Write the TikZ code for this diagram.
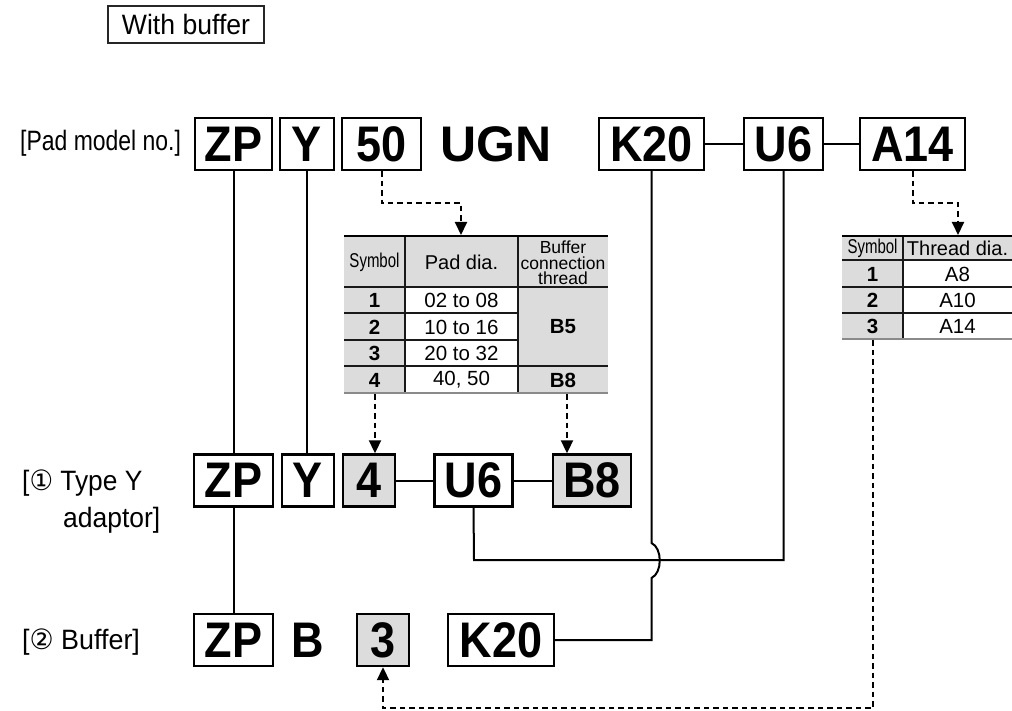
\documentclass[tikz,border=0pt]{standalone}
\usepackage{fontspec}
\setmainfont{Liberation Sans}
\newfontfamily\dv{DejaVu Sans}
\usetikzlibrary{arrows.meta}
\definecolor{gfill}{HTML}{DCDCDC}
\definecolor{gline}{HTML}{8A8A8A}
\newcommand{\cnd}[2][0.9]{\scalebox{#1}[1]{#2}}
\begin{document}
\begin{tikzpicture}[x=1pt,y=-1pt,
  bx/.style={draw=black, line width=2.4pt, inner sep=0pt, font=\fontsize{50}{50}\selectfont\bfseries, minimum height=52pt},
  gbx/.style={bx, fill=gfill},
  big/.style={font=\fontsize{50}{50}\selectfont\bfseries, inner sep=0pt},
  lbl/.style={font=\fontsize{28}{30}\selectfont, inner sep=0pt, anchor=west},
  conn/.style={line width=2pt, black},
  dsh/.style={line width=2pt, dash pattern=on 5.5pt off 4pt},
  tip/.style={-{Triangle[width=12pt,length=13pt]}},
  th/.style={font=\fontsize{20}{20}\selectfont, inner sep=0pt},
  thn/.style={font=\fontsize{17.5}{15.5}\selectfont, inner sep=0pt, align=center},
  td/.style={font=\fontsize{20.5}{20.5}\selectfont, inner sep=0pt},
  tb/.style={font=\fontsize{20.5}{20.5}\selectfont\bfseries, inner sep=0pt},
  thin/.style={line width=1.2pt, black!90},
]
\useasboundingbox (0,0) rectangle (1012,711);

% header box
\node[draw=black!85, line width=1.5pt, minimum width=156pt, minimum height=37pt, inner sep=0pt,
      font=\fontsize{28}{30}\selectfont] (wb) at (186,24.5) {\cnd[0.95]{With buffer}};

% labels
\node[lbl] (lpad) at (20,143) {\cnd[0.82]{[Pad model no.]}};
\node[lbl] (lya) at (22,483) {\cnd[0.94]{[{\dv ①} Type Y}};
\node[lbl] (lyb) at (63,520) {\cnd[0.945]{adaptor]}};
\node[lbl] (lbf) at (22,642) {\cnd[0.96]{[{\dv ②} Buffer]}};

% top row
\node[bx, minimum width=77pt] (tzp) at (233.5,144) {\cnd{ZP}};
\node[bx, minimum width=54pt] (ty) at (307,144) {\cnd{Y}};
\node[bx, minimum width=79pt] (t50) at (381.5,144) {\cnd{50}};
\node[big] (tugn) at (496,144) {\cnd[1.0]{UGN}};
\node[bx, minimum width=105pt] (tk) at (651.5,144) {\cnd{K20}};
\node[bx, minimum width=79pt] (tu) at (783.5,144) {\cnd{U6}};
\node[bx, minimum width=105pt] (ta) at (912.5,144) {\cnd{A14}};

% middle row
\node[bx, minimum width=79pt] (mzp) at (233.5,480.5) {\cnd{ZP}};
\node[bx, minimum width=52pt] (my) at (308,480.5) {\cnd{Y}};
\node[gbx, minimum width=52pt] (m4) at (369,480.5) {\cnd{4}};
\node[bx, minimum width=78pt] (mu) at (473.5,480.5) {\cnd{U6}};
\node[gbx, minimum width=78pt] (mb) at (592,480.5) {\cnd{B8}};

% bottom row
\node[bx, minimum width=79pt] (bzp) at (233.5,640) {\cnd{ZP}};
\node[big] (bb) at (308,640) {\cnd{B}};
\node[gbx, minimum width=52pt] (b3) at (383,640) {\cnd{3}};
\node[bx, minimum width=106pt] (bk) at (501,640) {\cnd{K20}};

% ---------- table 1 ----------
\fill[gfill] (344,236) rectangle (608,393);
\fill[white] (405,287) rectangle (518,393);
\draw[thin] (344,287) -- (608,287);
\draw[thin] (344,313) -- (518,313);
\draw[thin] (344,340) -- (518,340);
\draw[thin] (344,366) -- (608,366);
\draw[thin] (405,236) -- (405,393);
\draw[thin] (518,236) -- (518,393);
\draw[line width=2.2pt, black] (344,236) -- (608,236);
\draw[line width=2.5pt, gline] (344,393) -- (608,393);
\node[th] (t1h1) at (374.5,262) {\cnd[0.75]{Symbol}};
\node[th] (t1h2) at (461.5,262) {Pad dia.};
\node[thn] (t1h3) at (563,263) {Buffer\\connection\\thread};
\node[tb] (t1s1) at (374.5,300.5) {1};
\node[td] (t1d1) at (461.5,300.5) {02 to 08};
\node[tb] (t1s2) at (374.5,327) {2};
\node[td] (t1d2) at (461.5,327) {10 to 16};
\node[tb] (t1s3) at (374.5,353.5) {3};
\node[td] (t1d3) at (461.5,353.5) {20 to 32};
\node[tb] (t1s4) at (374.5,380) {4};
\node[td] (t1d4) at (461.5,380) {40, 50};
\node[tb] (t1b5) at (563,327) {B5};
\node[tb] (t1b8) at (563,380) {B8};
\coordinate (t1in) at (461,235);
\coordinate (t1o4) at (375,394);
\coordinate (t1ob) at (567,394);

% ---------- table 2 ----------
\fill[gfill] (842,236) rectangle (1012,339);
\fill[white] (903,260) rectangle (1012,339);
\draw[thin] (842,260) -- (1012,260);
\draw[thin] (842,287) -- (1012,287);
\draw[thin] (842,313) -- (1012,313);
\draw[thin] (903,236) -- (903,339);
\draw[line width=2.2pt, black] (842,236) -- (1012,236);
\draw[line width=2.5pt, gline] (842,339) -- (1012,339);
\node[th] (t2h1) at (872.5,248.5) {\cnd[0.75]{Symbol}};
\node[th] (t2h2) at (957.5,248.5) {Thread dia.};
\node[tb] (t2s1) at (872.5,274) {1};
\node[td] (t2d1) at (957.5,274) {A8};
\node[tb] (t2s2) at (872.5,300.5) {2};
\node[td] (t2d2) at (957.5,300.5) {A10};
\node[tb] (t2s3) at (872.5,326.5) {3};
\node[td] (t2d3) at (957.5,326.5) {A14};
\coordinate (t2in) at (958,235);
\coordinate (t2o3) at (873,340);

% ---------- connectors ----------
\draw[conn] (tzp.south) -- (mzp.north);
\draw[conn] (ty.south) -- (ty.south |- my.north);
\draw[conn] (mzp.south) -- (bzp.north);
\draw[conn] (tk.east) -- (tu.west);
\draw[conn] (tu.east) -- (ta.west);
\draw[conn] (m4.east) -- (mu.west);
\draw[conn] (mu.east) -- (mb.west);
\coordinate (uturn) at (474,560);
\draw[conn] (tu.south) |- (uturn) -- (mu.south);
\coordinate (j1) at (651.5,543);
\coordinate (j2) at (651.5,578);
\draw[conn] (tk.south) -- (j1) .. controls (662.5,548) and (662.5,573) .. (j2) |- (bk.east);

% dashed arrows
\draw[dsh, tip] (t50.south) -- ++(0,32) -| (t1in);
\draw[dsh, tip] (ta.south) -- ++(0,32) -| (t2in);
\draw[dsh, tip] (t1o4) -- (t1o4 |- m4.north);
\draw[dsh, tip] (t1ob) -- (t1ob |- mb.north);
\draw[dsh, tip] (t2o3) -- ++(0,368) -| (b3.south);
\end{tikzpicture}
\end{document}
